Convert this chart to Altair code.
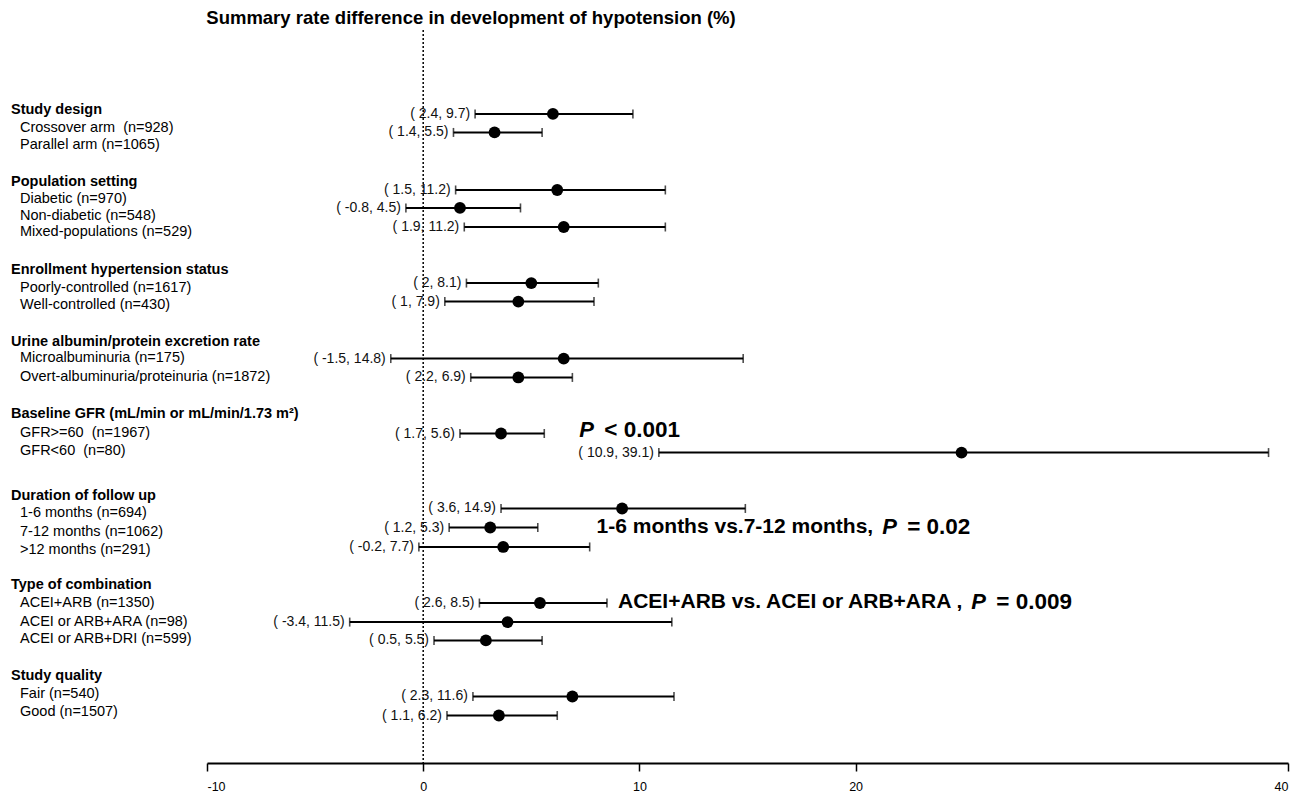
import altair as alt
import pandas as pd

# ---------------- data ----------------
header_labels = [
    "Study design", "Population setting", "Enrollment hypertension status",
    "Urine albumin/protein excretion rate", "Baseline GFR (mL/min or mL/min/1.73 m²)",
    "Duration of follow up", "Type of combination", "Study quality",
]
header_rows = [4.37, 8.32, 13.12, 17.05, 20.98, 25.43, 30.31, 35.25]

item_labels = [
    "Crossover arm \u00a0(n=928)", "Parallel arm (n=1065)",
    "Diabetic (n=970)", "Non-diabetic (n=548)", "Mixed-populations (n=529)",
    "Poorly-controlled (n=1617)", "Well-controlled (n=430)",
    "Microalbuminuria (n=175)", "Overt-albuminuria/proteinuria (n=1872)",
    "GFR>=60 \u00a0(n=1967)", "GFR<60 \u00a0(n=80)",
    "1-6 months (n=694)", "7-12 months (n=1062)", ">12 months (n=291)",
    "ACEI+ARB (n=1350)", "ACEI or ARB+ARA (n=98)", "ACEI or ARB+DRI (n=599)",
    "Fair (n=540)", "Good (n=1507)",
]
item_rows = [5.35, 6.28, 9.22, 10.15, 11.02, 14.08, 15.01, 17.90, 18.96,
             21.99, 22.97, 26.38, 27.37, 28.35, 31.27, 32.31, 33.26, 36.21, 37.19]

est_rows = [4.58, 5.59, 8.73, 9.71, 10.75, 13.81, 14.82, 17.93, 18.96,
            22.02, 23.06, 26.11, 27.15, 28.21, 31.27, 32.31, 33.31, 36.37, 37.41]
est = [6.0, 3.3, 6.2, 1.7, 6.5, 5.0, 4.4, 6.5, 4.4, 3.6, 24.9, 9.2, 3.1, 3.7,
       5.4, 3.9, 2.9, 6.9, 3.5]
lo = [2.4, 1.4, 1.5, -0.8, 1.9, 2, 1, -1.5, 2.2, 1.7, 10.9, 3.6, 1.2, -0.2,
      2.6, -3.4, 0.5, 2.3, 1.1]
hi = [9.7, 5.5, 11.2, 4.5, 11.2, 8.1, 7.9, 14.8, 6.9, 5.6, 39.1, 14.9, 5.3, 7.7,
      8.5, 11.5, 5.5, 11.6, 6.2]

ann_pre = ["", "1-6 months vs.7-12 months,", "ACEI+ARB vs. ACEI or ARB+ARA ,"]
ann_post = ["< 0.001", "= 0.02", "= 0.009"]
ann_p_x = [7.22, 21.23, 25.35]
ann_rows = [21.83, 27.12, 31.21]

x_ticks = [-10, 0, 10, 20, 40]
title_text = "Summary rate difference in development of hypotension (%)"

# ---------------- tables ----------------
FONT = "Liberation Sans"
headers = pd.DataFrame({"label": header_labels, "row": header_rows})
items = pd.DataFrame({"label": item_labels, "row": item_rows})
ci = pd.DataFrame({"row": est_rows, "est": est, "lo": lo, "hi": hi})
ci["txt"] = [f"(\u00a0{a:g},\u00a0{b:g})" for a, b in zip(lo, hi)]
ann = pd.DataFrame({"pre": ann_pre, "post": ann_post, "px": ann_p_x, "row": ann_rows})
zero = pd.DataFrame({"x": [0]})
ttl = pd.DataFrame({"t": [title_text]})

xs = alt.Scale(domain=[-10, 40], nice=False, zero=False)
ys = alt.Scale(domain=[0, 40], reverse=True, nice=False, zero=False)

X = lambda f: alt.X(f, type="quantitative", scale=xs,
                    axis=alt.Axis(values=x_ticks, title=None, grid=False,
                                  labelExpr="'' + datum.value"))
Y = lambda f: alt.Y(f, type="quantitative", scale=ys, axis=None)

base_ci = alt.Chart(ci)

rules = base_ci.mark_rule(color="black", strokeWidth=2).encode(
    x=X("lo"), x2="hi", y=Y("row"))
cap_lo = base_ci.mark_tick(color="black", orient="vertical", size=9, thickness=1.6).encode(
    x=X("lo"), y=Y("row"))
cap_hi = base_ci.mark_tick(color="black", orient="vertical", size=9, thickness=1.6).encode(
    x=X("hi"), y=Y("row"))
pts = base_ci.mark_circle(color="black", opacity=1, size=140).encode(
    x=X("est"), y=Y("row"))
ci_txt = base_ci.mark_text(align="right", baseline="middle", dx=-5, fontSize=14,
                           font=FONT, color="#111").encode(
    x=X("lo"), y=Y("row"), text="txt:N")

zero_line = alt.Chart(zero).mark_rule(color="black", strokeDash=[2, 2], strokeWidth=1.5).encode(
    x=X("x"), y=alt.value(0), y2=alt.value(733))

hdr = alt.Chart(headers).mark_text(align="left", baseline="middle", fontSize=14.5,
                                   fontWeight="bold", font=FONT, color="black").encode(
    x=alt.value(-196), y=Y("row"), text="label:N")
itm = alt.Chart(items).mark_text(align="left", baseline="middle", fontSize=14.5,
                                 font=FONT, color="black").encode(
    x=alt.value(-187), y=Y("row"), text="label:N")

title = alt.Chart(ttl).mark_text(align="center", baseline="middle", fontSize=18.5,
                                 fontWeight="bold", font=FONT, color="black").encode(
    x=alt.value(264), y=alt.value(-12), text="t:N")

a_pre = alt.Chart(ann).mark_text(align="right", baseline="middle", fontSize=21, dx=-9,
                                 fontWeight="bold", font=FONT, color="black").encode(
    x=X("px"), y=Y("row"), text="pre:N")
a_p = alt.Chart(ann).mark_text(align="left", baseline="middle", fontSize=22,
                               fontWeight="bold", fontStyle="italic", font=FONT,
                               color="black").encode(
    x=X("px"), y=Y("row"), text=alt.value("P"))
a_post = alt.Chart(ann).mark_text(align="left", baseline="middle", fontSize=22.5, dx=25,
                                  fontWeight="bold", font=FONT, color="black").encode(
    x=X("px"), y=Y("row"), text="post:N")

chart = alt.layer(
    zero_line, rules, cap_lo, cap_hi, pts, ci_txt, hdr, itm, title, a_pre, a_p, a_post
).properties(
    width=1081, height=733,
    autosize=alt.AutoSizeParams(type="none"),
    padding={"left": 199, "top": 22, "right": 7, "bottom": 30},
    background="white",
).configure_view(stroke=None).configure_axis(
    domainColor="black", domainWidth=2, tickColor="black", tickWidth=1.5,
    tickSize=8, labelFontSize=12.5, labelColor="black", labelFont=FONT, labelPadding=9,
)

chart.save("out.html", embed_options={"renderer": "svg", "actions": False})
